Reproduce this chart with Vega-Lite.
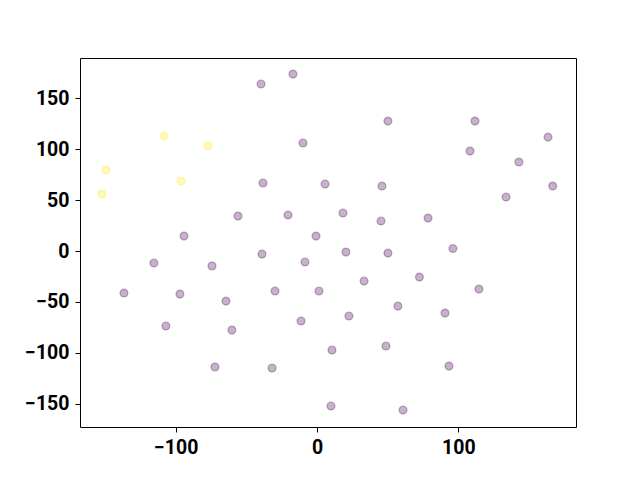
{
  "$schema": "https://vega.github.io/schema/vega-lite/v6.json",
  "width": 496,
  "height": 369,
  "autosize": "none",
  "padding": {"left": 80, "top": 58, "right": 64, "bottom": 53},
  "background": "white",
  "config": {
    "view": {"stroke": "black", "strokeWidth": 1},
    "axis": {"labelFont": "Roboto", "labelFontWeight": "bold", "labelFontSize": 19.5, "labelColor": "black", "tickColor": "black", "domain": false, "grid": false, "tickSize": 5, "labelPadding": 6, "title": null}
  },
  "data": {"values": [
    {"x": -149.3, "y": 79.6, "g": "b"},
    {"x": -108.3, "y": 113, "g": "b"},
    {"x": -77.1, "y": 103.2, "g": "b"},
    {"x": -96.2, "y": 68.8, "g": "b"},
    {"x": -152.2, "y": 56, "g": "b"},
    {"x": -39.6, "y": 164.2, "g": "a"},
    {"x": -17, "y": 174, "g": "a"},
    {"x": -9.9, "y": 106.2, "g": "a"},
    {"x": -38.2, "y": 66.9, "g": "a"},
    {"x": 5.7, "y": 65.9, "g": "a"},
    {"x": 46, "y": 63.9, "g": "a"},
    {"x": 50.2, "y": 127.8, "g": "a"},
    {"x": 111.8, "y": 127.8, "g": "a"},
    {"x": 108.3, "y": 98.3, "g": "a"},
    {"x": 163.5, "y": 112, "g": "a"},
    {"x": 142.9, "y": 87.5, "g": "a"},
    {"x": 166.8, "y": 63.9, "g": "a"},
    {"x": 133.8, "y": 53.1, "g": "a"},
    {"x": 78.6, "y": 32.4, "g": "a"},
    {"x": 45.3, "y": 29.5, "g": "a"},
    {"x": 18.4, "y": 37.4, "g": "a"},
    {"x": -20.5, "y": 35.4, "g": "a"},
    {"x": -55.9, "y": 34.4, "g": "a"},
    {"x": -94.1, "y": 14.7, "g": "a"},
    {"x": -0.7, "y": 14.7, "g": "a"},
    {"x": 20.5, "y": -1, "g": "a"},
    {"x": 50.2, "y": -2, "g": "a"},
    {"x": 96.2, "y": 2.5, "g": "a"},
    {"x": -38.9, "y": -3, "g": "a"},
    {"x": -8.5, "y": -10.8, "g": "a"},
    {"x": -115.4, "y": -11.8, "g": "a"},
    {"x": -74.3, "y": -14.7, "g": "a"},
    {"x": 72.5, "y": -25.6, "g": "a"},
    {"x": 33.3, "y": -29.5, "g": "a"},
    {"x": -136.6, "y": -41.3, "g": "a"},
    {"x": -97, "y": -42.3, "g": "a"},
    {"x": -29.7, "y": -39.3, "g": "a"},
    {"x": 1.4, "y": -39.3, "g": "a"},
    {"x": 57.3, "y": -54.1, "g": "a"},
    {"x": 114.6, "y": -37.4, "g": "a"},
    {"x": -64.4, "y": -49.2, "g": "a"},
    {"x": -106.9, "y": -73.7, "g": "a"},
    {"x": -11.3, "y": -68.8, "g": "a"},
    {"x": 22.6, "y": -63.9, "g": "a"},
    {"x": 90.6, "y": -61, "g": "a"},
    {"x": -60.2, "y": -77.7, "g": "a"},
    {"x": 10.6, "y": -97.3, "g": "a"},
    {"x": 48.8, "y": -93.4, "g": "a"},
    {"x": 93.4, "y": -113.1, "g": "a"},
    {"x": -72.2, "y": -114, "g": "a"},
    {"x": -31.8, "y": -115, "g": "a"},
    {"x": 9.9, "y": -152.4, "g": "a"},
    {"x": 60.9, "y": -156.3, "g": "a"}
  ]},
  "mark": {"type": "point", "filled": true, "size": 60, "opacity": 1, "fillOpacity": 0.3, "strokeOpacity": 0.3, "strokeWidth": 1.4},
  "encoding": {
    "x": {"field": "x", "type": "quantitative", "scale": {"domain": [-167.7, 183.3], "nice": false, "zero": false}, "axis": {"values": [-100, 0, 100], "format": "d"}},
    "y": {"field": "y", "type": "quantitative", "scale": {"domain": [-173, 189.8], "nice": false, "zero": false}, "axis": {"values": [-150, -100, -50, 0, 50, 100, 150], "format": "d"}},
    "color": {"field": "g", "type": "nominal", "scale": {"domain": ["a", "b"], "range": ["#440154", "#fde725"]}, "legend": null},
    "stroke": {"field": "g", "type": "nominal", "scale": {"domain": ["a", "b"], "range": ["#440154", "#fde725"]}, "legend": null}
  }
}
